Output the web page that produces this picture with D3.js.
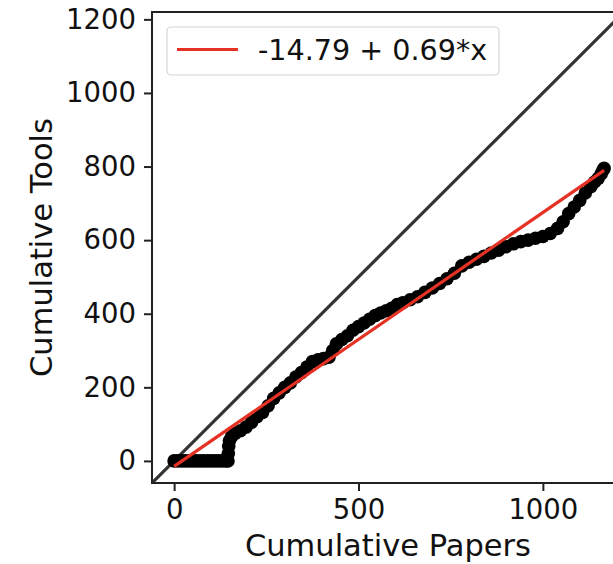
<!DOCTYPE html>
<html>
<head>
<meta charset="utf-8">
<script src="https://cdn.jsdelivr.net/npm/d3@7"></script>
<style>
  html, body { margin: 0; padding: 0; background: #fff; }
  svg { display: block; font-family: "DejaVu Sans", sans-serif; }
</style>
</head>
<body>
<div id="chart"></div>
<script>
// cumulative papers (x) and cumulative tools (y)
const papers = [0, 10, 20, 30, 40, 50, 60, 70, 80, 90, 100, 110, 120, 130, 140,
  146, 147, 148, 150, 155, 165, 180, 195, 210, 225, 240, 255, 270, 285, 300,
  315, 330, 345, 360, 375, 390, 405, 420, 430, 440, 455, 470, 485, 500, 515,
  530, 545, 560, 575, 590, 605, 620, 640, 660, 680, 700, 720, 740, 760, 780,
  800, 820, 840, 860, 880, 900, 920, 940, 960, 980, 1000, 1020, 1040, 1055,
  1070, 1085, 1100, 1115, 1130, 1140, 1150, 1158, 1163, 1166];
const tools = [0, 0, 0, 0, 0, 0, 0, 0, 0, 0, 0, 0, 0, 0, 0,
  0, 20, 40, 55, 65, 75, 82, 92, 105, 120, 132, 150, 170, 185, 200,
  212, 228, 240, 255, 270, 275, 278, 282, 300, 318, 330, 340, 355, 365, 375,
  385, 395, 402, 408, 415, 425, 430, 438, 446, 458, 470, 482, 495, 510, 530,
  540, 548, 556, 565, 573, 582, 590, 596, 600, 605, 610, 618, 632, 650,
  672, 690, 708, 728, 745, 758, 768, 780, 790, 795];

const fitIntercept = -14.79;
const fitSlope = 0.69;
const fitLabel = "-14.79 + 0.69*x";

const xTicks = [0, 500, 1000];
const yTicks = [0, 200, 400, 600, 800, 1000, 1200];

const width = 613, height = 564;
const plotLeft = 152, plotTop = 12, plotSize = 471;
const tickFont = 27.5, labelFont = 30.5, legendFont = 28.6;

const svg = d3.select("#chart").append("svg")
    .attr("width", width)
    .attr("height", height);

const x = d3.scaleLinear().domain([-60, 1220]).range([plotLeft, plotLeft + plotSize + 1]);
const y = d3.scaleLinear().domain([-60, 1220]).range([plotTop + plotSize, plotTop]);

svg.append("clipPath").attr("id", "clip")
  .append("rect")
    .attr("x", plotLeft).attr("y", plotTop)
    .attr("width", plotSize).attr("height", plotSize);

const plot = svg.append("g").attr("clip-path", "url(#clip)");

// identity line
plot.append("line")
    .attr("x1", x(-60)).attr("y1", y(-60))
    .attr("x2", x(1220)).attr("y2", y(1220))
    .attr("stroke", "#333")
    .attr("stroke-width", 3.2);

// scatter
const pts = papers.map((p, i) => ({p: p, t: tools[i]}));
plot.append("g")
  .selectAll("circle")
  .data(pts)
  .join("circle")
    .attr("cx", d => x(d.p))
    .attr("cy", d => y(d.t))
    .attr("r", 6.8)
    .attr("fill", "#000");

// regression line
const xMin = d3.min(papers), xMax = d3.max(papers);
plot.append("line")
    .attr("x1", x(xMin)).attr("y1", y(fitIntercept + fitSlope * xMin))
    .attr("x2", x(xMax)).attr("y2", y(fitIntercept + fitSlope * xMax))
    .attr("stroke", "#e53224")
    .attr("stroke-width", 3.2);

// axes
const xAxis = svg.append("g")
    .attr("transform", `translate(0,${plotTop + plotSize})`)
    .call(d3.axisBottom(x).tickValues(xTicks).tickSize(8).tickPadding(8).tickFormat(d3.format("d")));
const yAxis = svg.append("g")
    .attr("transform", `translate(${plotLeft},0)`)
    .call(d3.axisLeft(y).tickValues(yTicks).tickSize(8).tickPadding(8).tickFormat(d3.format("d")));

[xAxis, yAxis].forEach(a => {
  a.select(".domain").remove();
  a.selectAll(".tick line").attr("stroke", "#222").attr("stroke-width", 2);
  a.selectAll(".tick text")
    .attr("font-family", "DejaVu Sans, sans-serif")
    .attr("font-size", tickFont)
    .attr("fill", "#111");
});

// spines
const spine = [[plotLeft, plotTop, plotLeft, plotTop + plotSize],
               [plotLeft, plotTop + plotSize, width, plotTop + plotSize],
               [plotLeft, plotTop, width, plotTop]];
svg.append("g").selectAll("line").data(spine).join("line")
    .attr("x1", d => d[0]).attr("y1", d => d[1])
    .attr("x2", d => d[2]).attr("y2", d => d[3])
    .attr("stroke", "#222").attr("stroke-width", 2)
    .attr("stroke-linecap", "square");

// axis labels
svg.append("text")
    .attr("x", 388)
    .attr("y", 556)
    .attr("text-anchor", "middle")
    .attr("font-size", labelFont)
    .attr("fill", "#111")
    .text("Cumulative Papers");

svg.append("text")
    .attr("transform", `translate(52,${plotTop + plotSize / 2}) rotate(-90)`)
    .attr("text-anchor", "middle")
    .attr("font-size", labelFont)
    .attr("fill", "#111")
    .text("Cumulative Tools");

// legend
const leg = svg.append("g");
leg.append("rect")
    .attr("x", 167).attr("y", 27)
    .attr("width", 332).attr("height", 48)
    .attr("rx", 4)
    .attr("fill", "#fff").attr("fill-opacity", 0.8)
    .attr("stroke", "#d5d5d5").attr("stroke-width", 1.2);
leg.append("line")
    .attr("x1", 177).attr("x2", 238)
    .attr("y1", 49.5).attr("y2", 49.5)
    .attr("stroke", "#e53224").attr("stroke-width", 3.2);
leg.append("text")
    .attr("x", 258).attr("y", 60)
    .attr("font-size", legendFont)
    .attr("fill", "#111")
    .text(fitLabel);
</script>
</body>
</html>
